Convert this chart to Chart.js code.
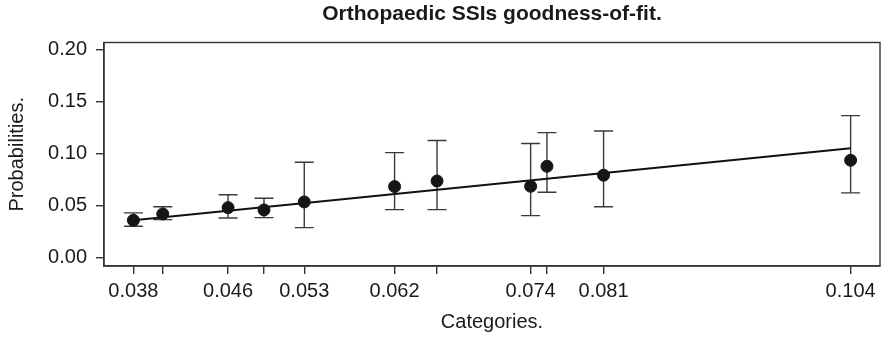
<!DOCTYPE html>
<html>
<head>
<meta charset="utf-8">
<script src="https://cdn.jsdelivr.net/npm/chart.js@4/dist/chart.umd.min.js"></script>
<style>
html,body{margin:0;padding:0;background:#fff;}
#wrap{width:882px;height:341px;}
</style>
</head>
<body>
<div id="wrap"><canvas id="c" width="882" height="341"></canvas></div>
<script>
// Data
const categoryX = [0.0377, 0.0404, 0.0464, 0.0497, 0.0534, 0.0617, 0.0656, 0.0742, 0.0757, 0.0809, 0.1036];
const tickLabels = ['0.038', '', '0.046', '', '0.053', '0.062', '', '0.074', '', '0.081', '0.104'];
const observed = [0.0357, 0.0418, 0.0479, 0.0457, 0.0534, 0.0682, 0.0736, 0.0685, 0.0878, 0.0792, 0.0936];
const lowerCI = [0.0299, 0.0363, 0.0379, 0.0383, 0.0286, 0.0460, 0.0460, 0.0402, 0.0627, 0.0488, 0.0621];
const upperCI = [0.0428, 0.0488, 0.0604, 0.0569, 0.0917, 0.1010, 0.1126, 0.1097, 0.1203, 0.1219, 0.1367];
const fitX = [0.0377, 0.1036];
const fitY = [0.0357, 0.1052];
const yTicks = [0, 0.05, 0.10, 0.15, 0.20];

const FONT = "'Liberation Sans', Arial, Helvetica, sans-serif";
const AXIS = '#333333';

const errorBars = {
  id: 'errorBars',
  beforeDatasetsDraw(chart) {
    const {ctx, scales: {x, y}} = chart;
    ctx.save();
    ctx.strokeStyle = '#3a3a3a';
    ctx.lineWidth = 1.4;
    const cap = 9.5;
    categoryX.forEach((cx, i) => {
      const px = x.getPixelForValue(cx);
      const pl = y.getPixelForValue(lowerCI[i]);
      const pu = y.getPixelForValue(upperCI[i]);
      ctx.beginPath();
      ctx.moveTo(px, pl); ctx.lineTo(px, pu);
      ctx.moveTo(px - cap, pl); ctx.lineTo(px + cap, pl);
      ctx.moveTo(px - cap, pu); ctx.lineTo(px + cap, pu);
      ctx.stroke();
    });
    ctx.restore();
  }
};

const frame = {
  id: 'frame',
  afterDraw(chart) {
    const {ctx, chartArea: a} = chart;
    ctx.save();
    ctx.strokeStyle = AXIS;
    ctx.lineWidth = 1.4;
    ctx.strokeRect(a.left, a.top, a.right - a.left, a.bottom - a.top);
    ctx.restore();
  }
};

new Chart(document.getElementById('c'), {
  type: 'scatter',
  data: {
    datasets: [
      {
        type: 'line',
        data: fitX.map((v, i) => ({x: v, y: fitY[i]})),
        borderColor: '#111111',
        borderWidth: 2,
        pointRadius: 0,
        fill: false,
        order: 2
      },
      {
        data: categoryX.map((v, i) => ({x: v, y: observed[i]})),
        backgroundColor: '#161616',
        borderColor: '#161616',
        pointRadius: 6,
        pointHoverRadius: 6,
        order: 1
      }
    ]
  },
  options: {
    responsive: false,
    animation: false,
    devicePixelRatio: 1,
    layout: {autoPadding: false, padding: {left: 0, right: 2, top: 0, bottom: 0}},
    plugins: {
      legend: {display: false},
      tooltip: {enabled: false},
      title: {
        display: true,
        fullSize: false,
        text: 'Orthopaedic SSIs goodness-of-fit.',
        color: '#1a1a1a',
        font: {family: FONT, size: 21, weight: 'bold'},
        padding: {top: 1.4, bottom: 15.9}
      }
    },
    scales: {
      x: {
        type: 'linear',
        min: 0.0350,
        max: 0.1063,
        afterBuildTicks(s) { s.ticks = categoryX.map(v => ({value: v})); },
        afterFit(s) { s.height = 75; s.paddingLeft = 0; s.paddingRight = 0; },
        ticks: {
          autoSkip: false,
          maxRotation: 0,
          minRotation: 0,
          padding: 5,
          color: '#1a1a1a',
          font: {family: FONT, size: 20},
          callback: (v, i) => tickLabels[i]
        },
        grid: {display: true, drawOnChartArea: false, drawTicks: true, tickLength: 8, color: AXIS, lineWidth: 1.4},
        border: {display: true, color: AXIS, width: 1.4},
        title: {
          display: true,
          text: 'Categories.',
          color: '#1a1a1a',
          font: {family: FONT, size: 20},
          padding: {top: 0, bottom: 7}
        }
      },
      y: {
        type: 'linear',
        min: -0.0084,
        max: 0.2072,
        afterBuildTicks(s) { s.ticks = yTicks.map(v => ({value: v})); },
        afterFit(s) { s.width = 104; s.paddingTop = 0; s.paddingBottom = 0; },
        ticks: {
          padding: 9,
          color: '#1a1a1a',
          font: {family: FONT, size: 20},
          callback: v => Number(v).toFixed(2)
        },
        grid: {display: true, drawOnChartArea: false, drawTicks: true, tickLength: 8, color: AXIS, lineWidth: 1.4},
        border: {display: true, color: AXIS, width: 1.4},
        title: {
          display: true,
          text: 'Probabilities.',
          color: '#1a1a1a',
          font: {family: FONT, size: 20},
          padding: {top: 5, bottom: 0}
        }
      }
    }
  },
  plugins: [errorBars, frame]
});
</script>
</body>
</html>
